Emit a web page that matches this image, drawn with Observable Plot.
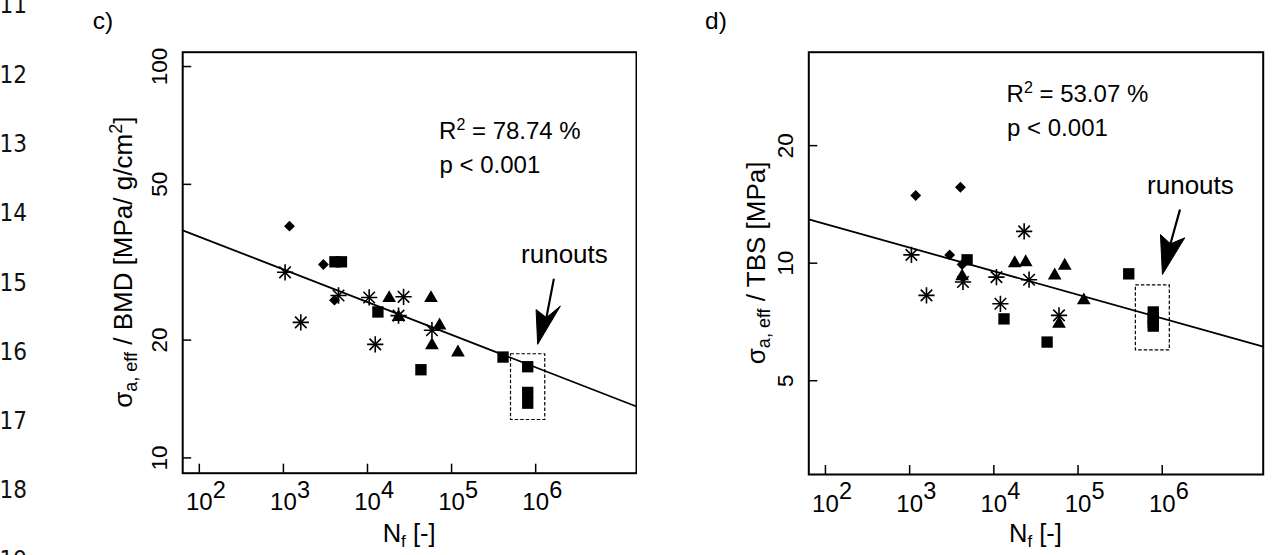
<!DOCTYPE html>
<html><head><meta charset="utf-8">
<script src="https://cdn.jsdelivr.net/npm/d3@7"></script>
<script src="https://cdn.jsdelivr.net/npm/@observablehq/plot@0.6"></script>
<style>
html,body{margin:0;padding:0;background:#fff;}
#wrap{display:flex;width:1274px;height:555px;overflow:hidden;}
#wrap svg{display:block;flex:none;}
</style></head><body><div id="wrap"></div>
<script>
const FONT = '"Liberation Sans", Arial, Helvetica, sans-serif';

// shared x axis (N_f, log)
const xTicks = [1e2, 1e3, 1e4, 1e5, 1e6];
const xTickExp = ["2", "3", "4", "5", "6"];
const xDomain = [63.45, 1.581e7];

// ---- panel c) sigma / BMD ----
const cYTicks = [10, 20, 50, 100];
const cYDomain = [9.14, 108.8];
const cDiamondN = [1180, 2990, 4050];
const cDiamondY = [39.1, 31.2, 25.3];
const cSquareN = [4100, 4900, 13300, 43200, 409000, 804000, 804000, 804000];
const cSquareY = [31.7, 31.7, 23.6, 16.8, 18.1, 17.1, 14.7, 13.8];
const cTriangleN = [18100, 23400, 56900, 71900, 58400, 119000];
const cTriangleY = [25.6, 22.9, 25.6, 21.8, 19.4, 18.6];
const cAsteriskN = [1047, 1610, 4520, 10470, 26850, 12360, 23400, 58400];
const cAsteriskY = [29.8, 22.2, 26.0, 25.7, 25.8, 19.5, 23.1, 21.2];
const cFitN = [63.45, 1.581e7];
const cFitY = [38.15, 13.53];
const cBoxN = [509000, 1.30e6];
const cBoxY = [12.5, 18.4];
const cShaftN = [1.638e6, 1.341e6];
const cShaftY = [28.54, 22.83];
const cHeadN = [1.341e6, 1.968e6, 1.056e6, 1.011e6, 1.341e6];
const cHeadY = [22.83, 24.43, 19.51, 23.93, 22.83];
const cR2 = {n: 71900, y: 65.0, value: "78.74"};
const cLabelN = [71900, 670000];
const cLabelY = [53.4, 31.46];
const cLabelText = ["p < 0.001", "runouts"];

// ---- panel d) sigma / TBS ----
const dYTicks = [5, 10, 20];
const dYDomain = [2.876, 34.7];
const dDiamondN = [1180, 4010, 2990, 4200];
const dDiamondY = [14.9, 15.65, 10.5, 9.92];
const dSquareN = [4810, 13200, 42900, 400000, 782000, 782000, 782000, 782000];
const dSquareY = [10.2, 7.2, 6.28, 9.39, 7.5, 7.25, 7.05, 6.9];
const dTriangleN = [4200, 17700, 23900, 52800, 69500, 117000, 59400];
const dTriangleY = [9.25, 10.0, 10.06, 9.3, 9.85, 8.03, 7.0];
const dAsteriskN = [1050, 1585, 4300, 10740, 26200, 11970, 59400, 22900];
const dAsteriskY = [10.5, 8.27, 8.95, 9.21, 9.07, 7.87, 7.35, 12.06];
const dFitN = [63.45, 1.581e7];
const dFitY = [12.95, 6.11];
const dBoxN = [486000, 1.23e6];
const dBoxY = [5.98, 8.77];
const dShaftN = [1.614e6, 1.252e6];
const dShaftY = [13.65, 11.21];
const dHeadN = [1.252e6, 1.85e6, 1.0055e6, 9.52e5, 1.252e6];
const dHeadY = [11.21, 11.61, 9.356, 11.84, 11.21];
const dR2 = {n: 14360, y: 25.84, value: "53.07"};
const dLabelN = [14360, 660000];
const dLabelY = [21.14, 15.0];
const dLabelText = ["p < 0.001", "runouts"];

const lineNumbers = ["11", "12", "13", "14", "15", "16", "17", "18", "19"];

function zip(a, b) { return a.map((v, i) => ({x: v, y: b[i]})); }

function panel(cfg) {
  const W = 637, H = 555;
  const plotW = W - cfg.ml - cfg.mr, plotH = H - cfg.mt - cfg.mb;
  const labels = cfg.labelN.map((n, i) => ({x: n, y: cfg.labelY[i], t: cfg.labelText[i], s: i === 1 ? 26 : 24}));
  const plot = Plot.plot({
    width: W, height: H,
    marginLeft: cfg.ml, marginRight: cfg.mr, marginTop: cfg.mt, marginBottom: cfg.mb,
    x: {type: "log", domain: xDomain, axis: null},
    y: {type: "log", domain: cfg.yDomain, axis: null},
    style: {fontFamily: FONT, fontSize: "24px", background: "white", color: "black", overflow: "visible"},
    marks: [
      Plot.tickX(xTicks, {x: d => d, insetTop: plotH - 9, stroke: "black", strokeWidth: 1.5}),
      Plot.tickY(cfg.yTicks, {y: d => d, insetRight: plotW - 9, stroke: "black", strokeWidth: 1.5}),
      Plot.text(xTicks, {x: d => d, text: () => "10", frameAnchor: "bottom", lineAnchor: "bottom", dy: 37, fontSize: 24}),
      Plot.text(xTicks, {x: d => d, text: (d, i) => xTickExp[i], frameAnchor: "bottom", lineAnchor: "bottom", textAnchor: "start", dx: 13.5, dy: 24.5, fontSize: 23.5}),
      Plot.text(cfg.yTicks, {y: d => d, text: d => String(d), frameAnchor: "left", lineAnchor: "bottom", textAnchor: "middle", rotate: -90, dx: -15.5, fontSize: 22.5}),
      Plot.line(zip(cfg.fitN, cfg.fitY), {x: "x", y: "y", stroke: "black", strokeWidth: 1.8}),
      Plot.rect([0], {x1: cfg.boxN[0], x2: cfg.boxN[1], y1: cfg.boxY[0], y2: cfg.boxY[1], fill: "none", stroke: "black", strokeWidth: 1.2, strokeDasharray: "3.5,2"}),
      Plot.dot(zip(cfg.diamondN, cfg.diamondY), {x: "x", y: "y", symbol: "diamond2", r: 4.9, fill: "black"}),
      Plot.dot(zip(cfg.squareN, cfg.squareY), {x: "x", y: "y", symbol: "square", r: 6.4, fill: "black"}),
      Plot.dot(zip(cfg.triangleN, cfg.triangleY), {x: "x", y: "y", symbol: "triangle", r: 5.1, fill: "black"}),
      Plot.dot(zip(cfg.asteriskN, cfg.asteriskY), {x: "x", y: "y", symbol: "plus", r: 5.3, stroke: "black", strokeWidth: 1.6}),
      Plot.dot(zip(cfg.asteriskN, cfg.asteriskY), {x: "x", y: "y", symbol: "times", r: 5.3, stroke: "black", strokeWidth: 1.6}),
      Plot.line(zip(cfg.shaftN, cfg.shaftY), {x: "x", y: "y", stroke: "black", strokeWidth: 2.2}),
      Plot.line(zip(cfg.headN, cfg.headY), {x: "x", y: "y", fill: "black", stroke: "black", strokeWidth: 1, strokeLinejoin: "miter"}),
      Plot.text(labels, {x: "x", y: "y", text: "t", fontSize: "s", textAnchor: "start", lineAnchor: "bottom"}),
      Plot.frame({stroke: "black", strokeWidth: 2})
    ]
  });
  const svg = d3.select(plot);
  const sx = plot.scale("x"), sy = plot.scale("y");
  // R^2 annotation, positioned through the plot's own scales
  const r2 = svg.append("text")
    .attr("x", sx.apply(cfg.r2.n)).attr("y", sy.apply(cfg.r2.y))
    .attr("text-anchor", "start").attr("font-size", 24).attr("fill", "black");
  r2.append("tspan").text("R");
  r2.append("tspan").text("2").attr("font-size", 16).attr("dy", -9);
  r2.append("tspan").text(` = ${cfg.r2.value} %`).attr("dy", 9);
  const cy = cfg.mt + plotH / 2;
  // y-axis title
  const yt = svg.append("text")
    .attr("transform", `translate(${cfg.ytX},${cy}) rotate(-90)`)
    .attr("text-anchor", "middle").attr("font-size", 26).attr("fill", "black");
  cfg.yTitle.forEach(part => {
    const t = yt.append("tspan").text(part.t).attr("font-size", part.s || 26);
    if (part.dy) t.attr("dy", part.dy);
  });
  // x-axis title
  const xt = svg.append("text")
    .attr("transform", `translate(${cfg.ml + plotW / 2},541.5)`)
    .attr("text-anchor", "middle").attr("font-size", 25.5).attr("fill", "black");
  xt.append("tspan").text("N");
  xt.append("tspan").text("f").attr("font-size", 17).attr("dy", 5);
  xt.append("tspan").text(" [-]").attr("dy", -5);
  // panel letter
  svg.append("text").attr("x", cfg.letterX).attr("y", 28.5).attr("text-anchor", "start")
    .attr("font-size", 24.5).attr("fill", "black").text(cfg.letter);
  if (cfg.lineNums) {
    lineNumbers.forEach((s, i) => {
      svg.append("text").attr("x", -0.5).attr("y", 13.3 + i * 69.3).attr("text-anchor", "start")
        .attr("font-family", '"Liberation Sans Narrow", "DejaVu Sans Condensed", "Liberation Sans", sans-serif')
        .attr("font-size", 24).attr("fill", "#111").text(s);
    });
  }
  return plot;
}

const wrap = document.getElementById("wrap");
wrap.appendChild(panel({
  ml: 182.2, mr: 1, mt: 51.7, mb: 82.3,
  yDomain: cYDomain, yTicks: cYTicks,
  diamondN: cDiamondN, diamondY: cDiamondY, squareN: cSquareN, squareY: cSquareY,
  triangleN: cTriangleN, triangleY: cTriangleY, asteriskN: cAsteriskN, asteriskY: cAsteriskY,
  fitN: cFitN, fitY: cFitY, boxN: cBoxN, boxY: cBoxY,
  shaftN: cShaftN, shaftY: cShaftY, headN: cHeadN, headY: cHeadY,
  r2: cR2, labelN: cLabelN, labelY: cLabelY, labelText: cLabelText,
  ytX: 132,
  yTitle: [{t: "\u03c3"}, {t: "a, eff", s: 18, dy: 5}, {t: " / BMD [MPa/ g/cm", dy: -5}, {t: "2", s: 18, dy: -10}, {t: "]", dy: 10}],
  letter: "c)", letterX: 92.7, lineNums: true
}));
wrap.appendChild(panel({
  ml: 171.3, mr: 11.3, mt: 51.7, mb: 81,
  yDomain: dYDomain, yTicks: dYTicks,
  diamondN: dDiamondN, diamondY: dDiamondY, squareN: dSquareN, squareY: dSquareY,
  triangleN: dTriangleN, triangleY: dTriangleY, asteriskN: dAsteriskN, asteriskY: dAsteriskY,
  fitN: dFitN, fitY: dFitY, boxN: dBoxN, boxY: dBoxY,
  shaftN: dShaftN, shaftY: dShaftY, headN: dHeadN, headY: dHeadY,
  r2: dR2, labelN: dLabelN, labelY: dLabelY, labelText: dLabelText,
  ytX: 128,
  yTitle: [{t: "\u03c3"}, {t: "a, eff", s: 18, dy: 5}, {t: " / TBS [MPa]", dy: -5}],
  letter: "d)", letterX: 68, lineNums: false
}));
</script>
</body></html>
